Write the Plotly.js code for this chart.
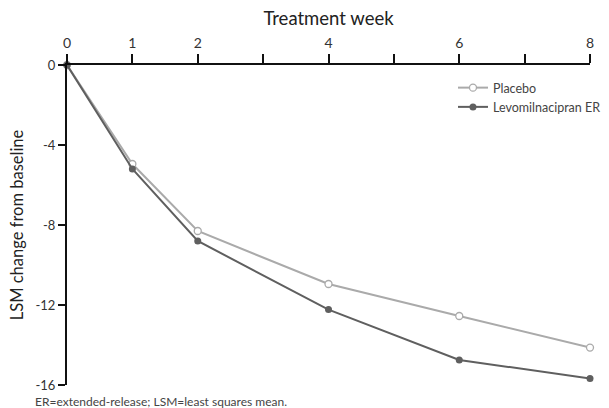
<!DOCTYPE html>
<html>
<head>
<meta charset="utf-8">
<script src="https://cdn.plot.ly/plotly-3.0.1.min.js"></script>
<style>html,body{margin:0;padding:0;background:#fff;}#chart{width:609px;height:408px;}</style>
</head>
<body>
<div id="chart"></div>
<script>
const weeks = [0, 1, 2, 4, 6, 8];
const placebo = [0, -4.95, -8.3, -10.95, -12.55, -14.13];
const levomilnacipran = [0, -5.2, -8.8, -12.23, -14.75, -15.67];
const xTickVals = [0, 1, 2, 3, 4, 5, 6, 7, 8];
const xTickText = ['0', '1', '2', '', '4', '', '6', '', '8'];
const yTickVals = [0, -4, -8, -12, -16];
const yTickText = ['0', '-4', '-8', '-12', '-16'];

const FONT = 'Lato, "Open Sans", sans-serif';

const traces = [
  {
    x: weeks, y: placebo, name: 'Placebo', type: 'scatter', mode: 'lines+markers',
    line: {color: '#aaaaaa', width: 2},
    marker: {symbol: 'circle', size: 7, color: '#ffffff', line: {color: '#aaaaaa', width: 1.3}},
    cliponaxis: false
  },
  {
    x: weeks, y: levomilnacipran, name: 'Levomilnacipran ER', type: 'scatter', mode: 'lines+markers',
    line: {color: '#5f5f5f', width: 2},
    marker: {symbol: 'circle', size: 7, color: '#5f5f5f'},
    cliponaxis: false
  }
];

const layout = {
  width: 609, height: 408,
  margin: {l: 67, r: 3, t: 65, b: 23},
  paper_bgcolor: '#ffffff', plot_bgcolor: '#ffffff',
  font: {family: FONT, color: '#333333', size: 13},
  showlegend: true,
  legend: {
    x: 0.738, y: 0.975, xanchor: 'left', yanchor: 'top',
    font: {family: FONT, size: 12.5, color: '#444444'},
    bgcolor: 'rgba(0,0,0,0)', itemwidth: 30, tracegroupgap: 0
  },
  xaxis: {
    range: [0, 8], side: 'top', tickmode: 'array', tickvals: xTickVals, ticktext: xTickText,
    showline: true, linecolor: '#111111', linewidth: 2, ticks: 'outside', ticklen: 9, tickwidth: 2, tickcolor: '#111111',
    showgrid: false, zeroline: false,
    tickfont: {family: FONT, size: 14, color: '#333333'},
    title: {text: 'Treatment week', font: {family: FONT, size: 18.5, color: '#222222'}, standoff: 4}
  },
  yaxis: {
    range: [-16, 0], tickmode: 'array', tickvals: yTickVals, ticktext: yTickText,
    showline: true, linecolor: '#111111', linewidth: 2, ticks: 'outside', ticklen: 7, tickwidth: 2, tickcolor: '#111111',
    showgrid: false, zeroline: false,
    tickfont: {family: FONT, size: 13, color: '#333333'},
    title: {text: 'LSM change from baseline', font: {family: FONT, size: 16.5, color: '#222222'}, standoff: 8}
  },
  annotations: [
    {
      text: 'ER=extended-release; LSM=least squares mean.', xref: 'paper', yref: 'paper',
      x: -0.065, y: 0, yshift: -16, xanchor: 'left', yanchor: 'middle', showarrow: false,
      font: {family: FONT, size: 12, color: '#444444'}
    }
  ]
};

Plotly.newPlot('chart', traces, layout, {displayModeBar: false, staticPlot: true});
</script>
</body>
</html>
